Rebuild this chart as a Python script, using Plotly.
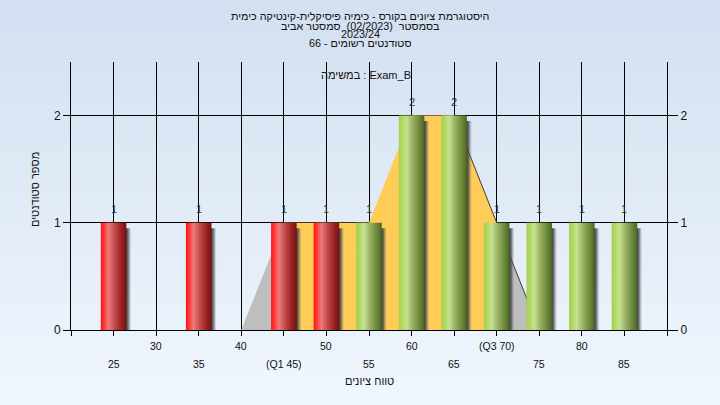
import plotly.graph_objects as go

# ---------------- data ----------------
categories = [25, 30, 35, 40, 45, 50, 55, 60, 65, 70, 75, 80, 85]
counts = [1, 0, 1, 0, 1, 1, 1, 2, 2, 1, 1, 1, 1]
x_tick_labels = ["25", "30", "35", "40", "(Q1 45)", "50", "55", "60", "65", "(Q3 70)", "75", "80", "85"]
curve_x = [40, 45, 50, 55, 60, 65, 70, 75]
curve_y = [0, 1, 1, 1, 2, 2, 1, 0]
q1, q3 = 45, 70
pass_mark = 55
y_ticks = [0, 1, 2]

title_lines = [
    "היסטוגרמת ציונים בקורס - כימיה פיסיקלית-קינטיקה כימית",
    "בסמסטר  (02/2023)  סמסטר אביב",
    "2023/24",
    "סטודנטים רשומים - 66",
]
task_label = "במשימה : Exam_B"
x_title = "טווח ציונים"
y_title = "מספר סטודנטים"

# ---------------- geometry helpers ----------------
W, H = 720, 405
L, R, T, B = 71, 53, 62, 75
PW, PH = W - L - R, H - T - B
X_RANGE = [20, 90]
Y_RANGE = [0, 2.5]
BAR_W = 3.0
FONT = "Liberation Sans, Arial, DejaVu Sans, sans-serif"


def py2paper(py):
    return (H - B - py) / PH


def px2paper(px):
    return (px - L) / PW


fig = go.Figure()

# ---------------- paper gradient background ----------------
shapes = []
n_strips = 60
top_c = (0xD2, 0xE0, 0xF1)
bot_c = (0xF0, 0xF6, 0xFD)
for i in range(n_strips):
    t = i / (n_strips - 1)
    c = tuple(round(top_c[k] + (bot_c[k] - top_c[k]) * t) for k in range(3))
    y0 = i * H / n_strips
    y1 = (i + 1) * H / n_strips + 1
    shapes.append(dict(type="rect", xref="paper", yref="paper", layer="below",
                       x0=px2paper(0), x1=px2paper(W), y0=py2paper(y1), y1=py2paper(y0),
                       fillcolor="rgb(%d,%d,%d)" % c, line=dict(width=0)))

# ---------------- area (frequency curve) ----------------
def segment(xs, ys, lo, hi):
    px_, py_ = [], []
    for xv, yv in zip(xs, ys):
        if lo <= xv <= hi:
            px_.append(xv)
            py_.append(yv)
    return px_ + [px_[-1], px_[0], px_[0]], py_ + [0, 0, py_[0]]

for lo, hi, col in [(curve_x[0], q1, "#BEBEBE"), (q1, q3, "#FFCC57"), (q3, curve_x[-1], "#BEBEBE")]:
    sx, sy = segment(curve_x, curve_y, lo, hi)
    fig.add_trace(go.Scatter(x=sx, y=sy, mode="lines", fill="toself", fillcolor=col,
                             line=dict(width=0), hoverinfo="skip", showlegend=False))

# thin edge on the descending side
desc_x = [xv for xv in curve_x if xv >= 65]
desc_y = [yv for xv, yv in zip(curve_x, curve_y) if xv >= 65]
fig.add_trace(go.Scatter(x=desc_x, y=desc_y, mode="lines", line=dict(color="#3A3A3A", width=1),
                         hoverinfo="skip", showlegend=False))

# ---------------- shadows ----------------
SH_DX = 0.6
SH_DY = 0.05
for c, v in zip(categories, counts):
    if v <= 0:
        continue
    l, r = c - BAR_W / 2 + SH_DX, c + BAR_W / 2 + SH_DX
    top = v - SH_DY
    fig.add_trace(go.Scatter(
        x=[l, r, r, l, l], y=[0, 0, top, top, 0], mode="lines", fill="toself",
        line=dict(width=0),
        fillgradient=dict(type="horizontal", start=l, stop=r,
                          colorscale=[[0, "rgb(45,45,45)"], [0.78, "rgb(50,50,50)"],
                                      [0.88, "rgba(75,75,75,0.7)"], [1, "rgba(150,150,150,0)"]]),
        hoverinfo="skip", showlegend=False))

# ---------------- bars ----------------
red_scale = [[0, "#FF1212"], [0.1, "#FF3030"], [0.3, "#F07A7A"], [0.55, "#C24A4A"],
             [0.8, "#9A2222"], [1, "#761212"]]
green_scale = [[0, "#A4D04A"], [0.1, "#ADD75A"], [0.3, "#C7E192"], [0.55, "#98AF62"],
               [0.8, "#6D8A3C"], [1, "#4B6526"]]
for c, v in zip(categories, counts):
    if v <= 0:
        continue
    l, r = c - BAR_W / 2, c + BAR_W / 2
    cs = red_scale if c < pass_mark else green_scale
    fig.add_trace(go.Scatter(
        x=[l, r, r, l, l], y=[0, 0, v, v, 0], mode="lines", fill="toself",
        line=dict(width=0),
        fillgradient=dict(type="horizontal", start=l, stop=r, colorscale=cs),
        hoverinfo="skip", showlegend=False))

# invisible trace on the right y axis so it is drawn
fig.add_trace(go.Scatter(x=[X_RANGE[0]], y=[0], yaxis="y2", mode="markers",
                         marker=dict(opacity=0), hoverinfo="skip", showlegend=False))

annotations = []
# value labels
for c, v in zip(categories, counts):
    if v <= 0:
        continue
    annotations.append(dict(x=c, y=v, xref="x", yref="y", text=str(v), showarrow=False,
                            yshift=14, font=dict(family=FONT, size=11, color="#24384A")))

# x tick labels, two staggered rows
for i, (c, lab) in enumerate(zip(categories, x_tick_labels)):
    row_py = 364 if i % 2 == 0 else 345.5
    annotations.append(dict(x=c, y=py2paper(row_py), xref="x", yref="paper", text=lab,
                            showarrow=False, font=dict(family=FONT, size=10.5, color="#111"),
                            xanchor="center", yanchor="middle"))

# axis titles
annotations.append(dict(x=px2paper(369), y=py2paper(381), xref="paper", yref="paper",
                        text=x_title, showarrow=False,
                        font=dict(family=FONT, size=11, color="#111"), yanchor="middle"))
annotations.append(dict(x=px2paper(35), y=py2paper(190), xref="paper", yref="paper",
                        text=y_title, textangle=-90, showarrow=False,
                        font=dict(family=FONT, size=11, color="#111"),
                        xanchor="center", yanchor="middle"))

# title lines
for txt, py in zip(title_lines, [16, 25.5, 33.5, 43]):
    annotations.append(dict(x=px2paper(360), y=py2paper(py), xref="paper", yref="paper",
                            text=txt, showarrow=False,
                            font=dict(family=FONT, size=10.8, color="#111"),
                            xanchor="center", yanchor="middle"))

# task label inside plot
annotations.append(dict(x=px2paper(366), y=py2paper(75), xref="paper", yref="paper",
                        text=task_label, showarrow=False,
                        font=dict(family=FONT, size=11, color="#111"),
                        xanchor="center", yanchor="middle"))

fig.update_layout(
    width=W, height=H,
    margin=dict(l=L, r=R, t=T, b=B, pad=0),
    paper_bgcolor="#E2ECF8",
    plot_bgcolor="#B3B3B3",
    showlegend=False,
    hovermode=False,
    shapes=shapes,
    annotations=annotations,
    xaxis=dict(range=X_RANGE, tickvals=list(range(20, 95, 5)), showticklabels=False,
               ticks="outside", ticklen=5, tickcolor="#000", showgrid=True,
               gridcolor="#000", gridwidth=1, showline=True, linecolor="#000", linewidth=1,
               zeroline=False, fixedrange=True),
    yaxis=dict(range=Y_RANGE, tickvals=y_ticks, ticks="outside", ticklen=7, tickcolor="#000",
               showgrid=True, gridcolor="#000", gridwidth=1, showline=True, linecolor="#000",
               linewidth=1, zeroline=False, tickfont=dict(family=FONT, size=12, color="#111"),
               fixedrange=True),
    yaxis2=dict(range=Y_RANGE, tickvals=y_ticks, overlaying="y", side="right", ticks="outside",
                ticklen=10, tickcolor="#000", showgrid=False, showline=True, linecolor="#000",
                linewidth=1, zeroline=False, tickfont=dict(family=FONT, size=12, color="#111"),
                fixedrange=True),
)

fig.write_html("out.html", config={"displayModeBar": False},
               post_script="document.body.style.margin='0';document.body.style.overflow='hidden';")
